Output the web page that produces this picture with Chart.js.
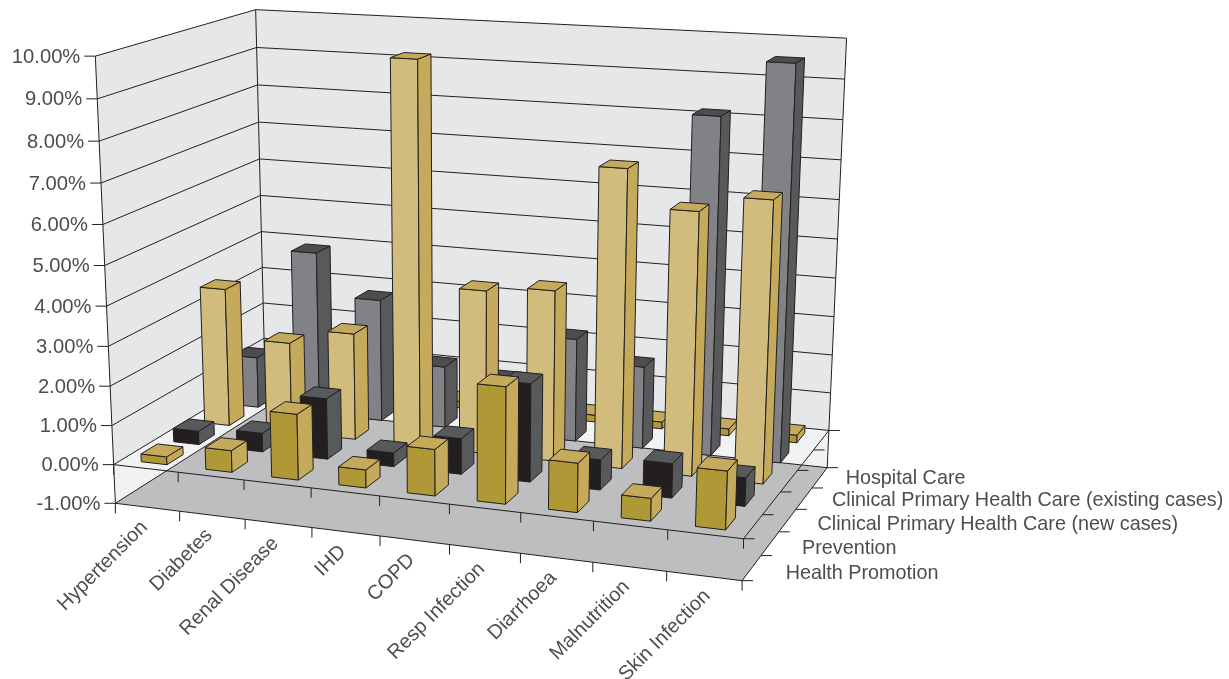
<!DOCTYPE html>
<html>
<head>
<meta charset="utf-8">
<title>Intervention shares by condition</title>
<script src="https://cdn.jsdelivr.net/npm/chart.js@4"></script>
<style>
    html, body { margin: 0; padding: 0; background: #fff; }
    canvas { display: block; }
</style>
</head>
<body>
<canvas id="chart" width="1229" height="679"></canvas>
<script>
const categories = ["Hypertension", "Diabetes", "Renal Disease", "IHD", "COPD", "Resp Infection", "Diarrhoea", "Malnutrition", "Skin Infection"];
const seriesNames = ["Health Promotion", "Prevention", "Clinical Primary Health Care (new cases)", "Clinical Primary Health Care (existing cases)", "Hospital Care"];
const tickLabels = ["-1.00%", "0.00%", "1.00%", "2.00%", "3.00%", "4.00%", "5.00%", "6.00%", "7.00%", "8.00%", "9.00%", "10.00%"];

// values in percent, one list per row of bars, front row first
const healthPromotion = [0.2, 0.55, 1.65, 0.45, 1.15, 2.85, 1.2, 0.55, 1.4];
const prevention = [0.35, 0.48, 1.55, 0.35, 0.9, 2.45, 0.75, 0.85, 0.7];
const newCases = [3.6, 2.35, 2.75, 9.7, 4.15, 4.3, 7.4, 6.5, 6.9];
const existingCases = [1.35, 4.3, 3.2, 1.6, 1.4, 2.65, 2.1, 8.45, 9.8];
const hospitalCare = [0.18, 0.18, 0.18, 0.18, 0.18, 0.18, 0.18, 0.18, 0.2];

// front, side, top colours for each row
const rowColors = [
    ["#b19837", "#c5aa5c", "#c5aa5c"],
    ["#231f20", "#58595b", "#58595b"],
    ["#d2bc7d", "#c5aa5c", "#c5aa5c"],
    ["#808285", "#58595b", "#4d4d4f"],
    ["#b19837", "#c5aa5c", "#c5aa5c"]
];

const LINE = "#231f20";
const WALL = "#e6e7e8";
const WALL_LOW = "#f1f2f2";
const FLOOR = "#bcbec0";
const TEXT = "#4d4d4f";
const BAR_FRACTION = 0.4;
const BAR_DEPTH_FRACTION = 0.5;

// where the corners of the plot box land on the canvas: [across, depth, height, px, py]
const boxAnchors = [
    [0, 0, 0, 115, 503.5],
    [1, 0, 0, 742.7, 580.3],
    [1, 1, 0, 827.3, 467.7],
    [0, 1, 0, 266.5, 408],
    [0, 0, 1, 95.7, 56.7],
    [0, 1, 1, 255.3, 9.3],
    [1, 1, 1, 846.7, 38],
    [0, 0, 1 / 11, 113.3, 464],
    [1, 0, 1 / 11, 743.3, 539],
    [1, 1, 1 / 11, 828.3, 430.7]
];

// least squares fit of a pinhole camera, normal equations + gaussian elimination
function fitCamera(anchors) {
    const rows = [];
    const rhs = [];
    anchors.forEach(([u, w, h, px, py]) => {
        const x = px / 1000, y = py / 1000;
        rows.push([u, w, h, 1, 0, 0, 0, 0, -x * u, -x * w, -x * h]);
        rhs.push(x);
        rows.push([0, 0, 0, 0, u, w, h, 1, -y * u, -y * w, -y * h]);
        rhs.push(y);
    });
    const n = 11;
    const m = [];
    for (let i = 0; i < n; i++) {
        m[i] = [];
        for (let j = 0; j < n; j++) {
            m[i][j] = rows.reduce((sum, r) => sum + r[i] * r[j], 0);
        }
        m[i][n] = rows.reduce((sum, r, k) => sum + r[i] * rhs[k], 0);
    }
    for (let i = 0; i < n; i++) {
        let best = i;
        for (let k = i + 1; k < n; k++) {
            if (Math.abs(m[k][i]) > Math.abs(m[best][i])) best = k;
        }
        [m[i], m[best]] = [m[best], m[i]];
        for (let k = 0; k < n; k++) {
            if (k === i) continue;
            const f = m[k][i] / m[i][i];
            for (let j = i; j <= n; j++) m[k][j] -= f * m[i][j];
        }
    }
    return m.map((r, i) => r[n] / r[i]);
}

const cam = fitCamera(boxAnchors);

function project(u, w, h) {
    const d = cam[8] * u + cam[9] * w + cam[10] * h + 1;
    return [
        1000 * (cam[0] * u + cam[1] * w + cam[2] * h + cam[3]) / d,
        1000 * (cam[4] * u + cam[5] * w + cam[6] * h + cam[7]) / d
    ];
}

function polygon(ctx, points, fill, stroke) {
    ctx.beginPath();
    points.forEach((p, i) => (i ? ctx.lineTo(p[0], p[1]) : ctx.moveTo(p[0], p[1])));
    ctx.closePath();
    if (fill) {
        ctx.fillStyle = fill;
        ctx.fill();
    }
    if (stroke) {
        ctx.strokeStyle = stroke;
        ctx.stroke();
    }
}

function line(ctx, a, b) {
    ctx.beginPath();
    ctx.moveTo(a[0], a[1]);
    ctx.lineTo(b[0], b[1]);
    ctx.stroke();
}

// the scales are kept hidden and only used to turn data into 0..1 box coordinates
function acrossOf(chart, index) {
    const s = chart.scales.x;
    return (s.getPixelForValue(index) - s.left) / s.width;
}
function depthOf(chart, index) {
    const s = chart.scales.z;
    return (s.getPixelForValue(index) - s.top) / s.height;
}
function heightOf(chart, value) {
    const s = chart.scales.y;
    return (s.bottom - s.getPixelForValue(value)) / s.height;
}

function drawWalls(ctx, chart) {
    const zero = heightOf(chart, 0);
    polygon(ctx, [project(0, 0, 0), project(0, 1, 0), project(1, 1, 0), project(1, 1, zero), project(0, 1, zero), project(0, 0, zero)], WALL_LOW);
    polygon(ctx, [project(0, 0, zero), project(0, 0, 1), project(0, 1, 1), project(1, 1, 1), project(1, 1, zero), project(0, 1, zero)], WALL);
    polygon(ctx, [project(0, 0, 0), project(1, 0, 0), project(1, 1, 0), project(0, 1, 0)], FLOOR);

    ctx.strokeStyle = LINE;
    chart.scales.y.ticks.forEach(tick => {
        const h = heightOf(chart, tick.value);
        line(ctx, project(0, 0, h), project(0, 1, h));
        line(ctx, project(0, 1, h), project(1, 1, h));
    });
    line(ctx, project(0, 0, 0), project(0, 0, 1));
    line(ctx, project(0, 1, 0), project(0, 1, 1));
    line(ctx, project(1, 1, 0), project(1, 1, 1));

    // front and right edges, at the bottom of the box and again at zero
    [0, zero].forEach(h => {
        line(ctx, project(0, 0, h), project(1, 0, h));
        line(ctx, project(1, 0, h), project(1, 1, h));
        for (let i = 0; i <= categories.length; i++) {
            const p = project(i / categories.length, 0, h);
            line(ctx, p, [p[0], p[1] + 10]);
        }
        for (let j = 0; j <= seriesNames.length; j++) {
            const p = project(1, j / seriesNames.length, h);
            line(ctx, p, [p[0] + 11, p[1]]);
        }
    });
}

function drawBar(ctx, chart, i, j, value, colors) {
    const halfU = BAR_FRACTION / 2 / categories.length;
    const halfW = BAR_DEPTH_FRACTION / 2 / seriesNames.length;
    const u = acrossOf(chart, i);
    const w = depthOf(chart, j);
    const base = heightOf(chart, 0);
    const top = heightOf(chart, value);
    const u0 = u - halfU, u1 = u + halfU, w0 = w - halfW, w1 = w + halfW;
    polygon(ctx, [project(u0, w0, base), project(u1, w0, base), project(u1, w0, top), project(u0, w0, top)], colors[0], LINE);
    polygon(ctx, [project(u1, w0, base), project(u1, w1, base), project(u1, w1, top), project(u1, w0, top)], colors[1], LINE);
    polygon(ctx, [project(u0, w0, top), project(u1, w0, top), project(u1, w1, top), project(u0, w1, top)], colors[2], LINE);
}

function drawLabels(ctx, chart) {
    ctx.fillStyle = TEXT;
    ctx.textBaseline = "middle";
    ctx.strokeStyle = LINE;

    ctx.font = '20.2px "Liberation Sans"';
    chart.scales.y.ticks.forEach((tick, k) => {
        const p = project(0, 0, heightOf(chart, tick.value));
        line(ctx, p, [p[0] - 11, p[1]]);
        ctx.textAlign = "right";
        ctx.fillText(tickLabels[k], p[0] - 15, p[1] + 1);
    });

    ctx.font = '20px "Liberation Sans"';
    chart.scales.x.getLabels().forEach((label, i) => {
        const p = project(acrossOf(chart, i), 0, 0);
        // last label sits a little further right, clear of the corner tick
        const nudge = i === categories.length - 1 ? 6 : 0;
        ctx.save();
        ctx.translate(p[0] - 3 + nudge, p[1] + 17);
        ctx.rotate(-Math.PI / 4);
        ctx.textAlign = "right";
        ctx.fillText(label, 0, 0);
        ctx.restore();
    });

    ctx.font = '19.8px "Liberation Sans"';
    chart.scales.z.getLabels().forEach((label, j) => {
        const p = project(1, depthOf(chart, j), 0);
        ctx.textAlign = "left";
        ctx.fillText(label, p[0] + 34 - 2 * j, p[1] + 6 - 1.2 * j);
    });
}

const box3d = {
    id: "box3d",
    beforeDatasetsDraw(chart) {
        const ctx = chart.ctx;
        ctx.save();
        ctx.lineWidth = 1;
        drawWalls(ctx, chart);
        // back row first, left to right, so nearer bars cover the ones behind
        for (let j = chart.data.datasets.length - 1; j >= 0; j--) {
            chart.data.datasets[j].data.forEach((value, i) => {
                drawBar(ctx, chart, i, j, value, rowColors[j]);
            });
        }
        drawLabels(ctx, chart);
        ctx.restore();
        return false;
    }
};

new Chart(document.getElementById("chart"), {
    type: "bar",
    data: {
        labels: categories,
        datasets: [
            { label: seriesNames[0], data: healthPromotion },
            { label: seriesNames[1], data: prevention },
            { label: seriesNames[2], data: newCases },
            { label: seriesNames[3], data: existingCases },
            { label: seriesNames[4], data: hospitalCare }
        ]
    },
    options: {
        responsive: false,
        animation: false,
        events: [],
        plugins: { legend: { display: false }, tooltip: { enabled: false } },
        scales: {
            x: { type: "category", display: false, offset: true },
            y: { type: "linear", display: false, min: -1, max: 10, ticks: { stepSize: 1 } },
            z: { type: "category", axis: "y", display: false, offset: true, labels: seriesNames }
        }
    },
    plugins: [box3d]
});
</script>
</body>
</html>
